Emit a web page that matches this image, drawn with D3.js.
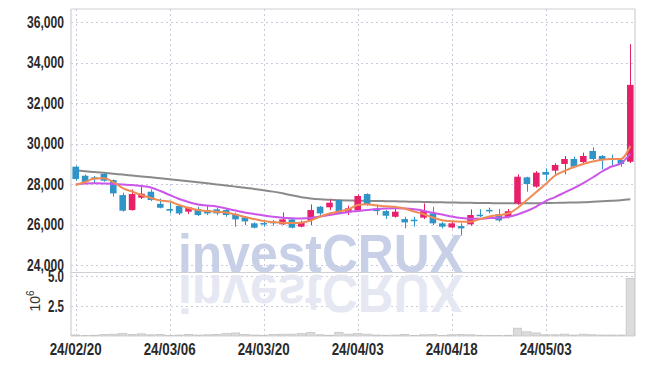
<!DOCTYPE html>
<html>
<head>
<meta charset="utf-8">
<script src="https://cdn.jsdelivr.net/npm/d3@7/dist/d3.min.js"></script>
<style>
  body { margin: 0; background: #fff; }
</style>
</head>
<body>
<div id="chart"></div>
<script>
// trading days shown (yy/mm/dd)
const dates = [
  "24/02/20","24/02/21","24/02/22","24/02/23","24/02/26","24/02/27","24/02/28","24/02/29","24/03/04","24/03/05",
  "24/03/06","24/03/07","24/03/08","24/03/11","24/03/12","24/03/13","24/03/14","24/03/15","24/03/18","24/03/19",
  "24/03/20","24/03/21","24/03/22","24/03/25","24/03/26","24/03/27","24/03/28","24/03/29","24/04/01","24/04/02",
  "24/04/03","24/04/04","24/04/05","24/04/08","24/04/09","24/04/11","24/04/12","24/04/15","24/04/16","24/04/17",
  "24/04/18","24/04/19","24/04/22","24/04/23","24/04/24","24/04/25","24/04/26","24/04/29","24/04/30","24/05/02",
  "24/05/03","24/05/07","24/05/08","24/05/09","24/05/10","24/05/13","24/05/14","24/05/16","24/05/17","24/05/20"
];

const open = [
  28870,28425,28345,28510,28210,27470,26730,27340,27635,27040,
  26780,26930,26650,26780,26730,26765,26730,26535,26370,26075,
  26090,26155,26025,26270,25910,26240,26895,26865,27225,26615,
  26715,27520,26765,26680,26400,26285,26255,26355,26565,26075,
  25875,25940,26025,26500,26740,26530,26385,27060,28345,27885,
  28610,28675,29005,29250,29100,29645,29400,29285,29200,29115
];
const high = [
  28920,28490,28410,28540,28245,27590,27750,27880,27750,27300,
  27150,26980,26895,26895,26930,26845,26815,26600,26435,26125,
  26155,26240,26615,26320,26205,27010,26930,27260,27260,26945,
  27505,27555,27010,26730,26945,26400,26400,27060,26895,26155,
  26155,26075,26765,26770,26850,26780,26780,28490,28375,28655,
  28790,29035,29400,29365,29565,29825,29445,29465,29285,34915
];
const low = [
  28180,28050,28050,28130,27390,26650,26700,27275,27175,26815,
  26565,26485,26535,26435,26485,26470,26400,25910,25990,25825,
  25910,25960,25990,25825,25875,25990,26450,26730,26535,26485,
  26650,26945,26485,26290,26355,25825,25910,26285,25990,25825,
  25825,25480,25960,26380,26570,26155,26320,26980,27635,27835,
  28180,28495,28500,28790,28955,29200,28740,28955,28870,29050
];
const close = [
  28260,28115,28250,28180,27555,26700,27520,27540,27225,26845,
  26700,26565,26865,26485,26565,26565,26485,26270,26170,25860,
  26055,26075,26270,25860,26105,26730,26565,27095,26565,26815,
  27425,27010,26680,26450,26650,26120,26190,26680,26075,25910,
  26075,25825,26485,26450,26700,26220,26675,28375,28015,28575,
  28475,28955,29250,28870,29400,29250,29200,29235,29005,32905
];
// volume, millions of shares
const volume = [
  0.08,0.05,0.06,0.12,0.15,0.22,0.12,0.18,0.10,0.12,
  0.05,0.08,0.12,0.08,0.10,0.12,0.20,0.25,0.12,0.08,
  0.06,0.12,0.15,0.15,0.20,0.28,0.10,0.06,0.30,0.15,
  0.20,0.15,0.08,0.06,0.08,0.12,0.05,0.10,0.12,0.05,
  0.10,0.12,0.10,0.06,0.04,0.05,0.06,0.65,0.35,0.25,
  0.10,0.10,0.15,0.08,0.15,0.10,0.08,0.08,0.08,4.80
];
// moving averages as drawn (short, mid, long)
const maShort = [
  27965,28114,28287,28297,28114,27818,27645,27472,27324,27200,
  27151,26978,26830,26731,26682,26648,26608,26510,26386,26287,
  26188,26139,26104,26089,26104,26213,26411,26559,26667,26756,
  26980,27013,26954,26914,26880,26806,26657,26534,26361,26228,
  26173,26154,26154,26287,26411,26485,26559,26830,27225,27620,
  28015,28435,28657,28855,29003,29126,29215,29250,29250,29892
];
const maMid = [
  27990,28040,28050,28040,28015,27990,27966,27916,27842,27669,
  27472,27274,27126,27003,26954,26904,26806,26707,26608,26534,
  26460,26395,26346,26322,26312,26336,26411,26485,26559,26633,
  26682,26732,26781,26806,26816,26806,26767,26692,26593,26510,
  26411,26336,26297,26297,26336,26346,26386,26510,26682,26904,
  27176,27373,27595,27818,28065,28336,28633,28880,29027,29521
];
const maLong = [
  28690,28646,28606,28566,28520,28480,28435,28390,28346,28297,
  28247,28198,28149,28100,28050,27995,27941,27887,27828,27773,
  27709,27640,27556,27457,27364,27304,27265,27240,27220,27205,
  27190,27185,27180,27170,27160,27150,27140,27130,27120,27110,
  27100,27095,27090,27080,27075,27070,27068,27065,27065,27070,
  27075,27085,27095,27105,27115,27140,27165,27190,27220,27265
];
const priceTicks = [24000, 26000, 28000, 30000, 32000, 34000, 36000];
const volumeTicks = [2.5, 5.0];
const labelEvery = 10;

const width = 645, height = 366;
const left = 71, right = 635;
const priceTop = 9, priceBottom = 272.5;
const volTop = 272.5, volBottom = 336;

const upColor = "#e8206a", downColor = "#2f95c8";
const gridColor = "#c9cbdc";
const font = "Liberation Sans, Arial, sans-serif";

const svg = d3.select("#chart").append("svg")
  .attr("width", width).attr("height", height)
  .attr("viewBox", [0, 0, width, height])
  .style("display", "block");

const idx = d3.range(dates.length);
const x = d3.scaleBand().domain(idx).range([left, right]).paddingInner(0.3).paddingOuter(0.15);
const cx = i => x(i) + x.bandwidth() / 2;
const step = x.step();

const y = d3.scaleLinear().domain([23650, 36650]).range([priceBottom, priceTop]);
const yv = d3.scaleLinear().domain([0, 5.3]).range([volBottom, volTop]);

const tickIdx = idx.filter(i => i % labelEvery === 0);

// grid
const grid = svg.append("g").attr("stroke", gridColor).attr("stroke-dasharray", "2,3").attr("stroke-width", 1);
grid.selectAll(".hg").data(priceTicks).join("line")
  .attr("x1", left).attr("x2", right)
  .attr("y1", d => Math.round(y(d)) + 0.5).attr("y2", d => Math.round(y(d)) + 0.5);
grid.selectAll(".vg").data(volumeTicks).join("line")
  .attr("x1", left).attr("x2", right)
  .attr("y1", d => Math.round(yv(d)) + 0.5).attr("y2", d => Math.round(yv(d)) + 0.5);
grid.selectAll(".xg").data(tickIdx).join("line")
  .attr("x1", d => Math.round(cx(d)) + 0.5).attr("x2", d => Math.round(cx(d)) + 0.5)
  .attr("y1", priceTop).attr("y2", volBottom);

// watermark + reflection
const wm = svg.append("g").attr("font-family", font);
wm.append("text")
  .attr("x", 178).attr("y", priceBottom - 1)
  .attr("textLength", 285).attr("lengthAdjust", "spacingAndGlyphs")
  .attr("font-size", 54).attr("font-weight", "bold")
  .attr("fill", "#c8d0e8")
  .text("investCRUX");
wm.append("text")
  .attr("x", 178).attr("y", priceBottom - 1)
  .attr("transform", `translate(0, ${2 * priceBottom + 1}) scale(1,-1)`)
  .attr("textLength", 285).attr("lengthAdjust", "spacingAndGlyphs")
  .attr("font-size", 54).attr("font-weight", "bold")
  .attr("fill", "#e5e8f2")
  .text("investCRUX");

// volume bars
svg.append("g").selectAll("rect").data(idx).join("rect")
  .attr("x", i => cx(i) - step * 0.44)
  .attr("width", step * 0.88)
  .attr("y", i => yv(volume[i]))
  .attr("height", i => volBottom - yv(volume[i]))
  .attr("fill", "#dcdcdc")
  .attr("stroke", "#c4c4c4")
  .attr("stroke-width", 0.8);

// moving averages
const line = arr => d3.line().x(i => cx(i)).y(i => y(arr[i])).curve(d3.curveMonotoneX)(idx);
svg.append("path").attr("d", line(maLong)).attr("fill", "none").attr("stroke", "#8a8a8a").attr("stroke-width", 2);

// candles
const candle = svg.append("g").selectAll("g").data(idx).join("g")
  .attr("fill", i => close[i] >= open[i] ? upColor : downColor)
  .attr("stroke", i => close[i] >= open[i] ? upColor : downColor);
candle.append("line")
  .attr("x1", i => Math.round(cx(i)) + 0.5).attr("x2", i => Math.round(cx(i)) + 0.5)
  .attr("y1", i => y(high[i])).attr("y2", i => y(low[i]))
  .attr("stroke-width", 1);
candle.append("rect")
  .attr("x", i => x(i))
  .attr("width", x.bandwidth())
  .attr("y", i => y(Math.max(open[i], close[i])))
  .attr("height", i => Math.max(1.5, Math.abs(y(open[i]) - y(close[i]))))
  .attr("stroke", "none");

svg.append("path").attr("d", line(maMid)).attr("fill", "none").attr("stroke", "#cc55ea").attr("stroke-width", 2);
svg.append("path").attr("d", line(maShort)).attr("fill", "none").attr("stroke", "#ef8c55").attr("stroke-width", 2);

// frame
const frame = svg.append("g").attr("stroke", "#cfcfd4").attr("fill", "none").attr("stroke-width", 1.2);
frame.append("line").attr("x1", left).attr("x2", left).attr("y1", priceTop).attr("y2", volBottom);
frame.append("line").attr("x1", right).attr("x2", right).attr("y1", priceTop).attr("y2", volBottom);
frame.append("line").attr("x1", left).attr("x2", right).attr("y1", priceTop).attr("y2", priceTop);
frame.append("line").attr("x1", left).attr("x2", right).attr("y1", priceBottom).attr("y2", priceBottom);

// axes (labels squeezed to the narrow face of the original)
const yAxis = svg.append("g").attr("transform", `translate(${left},0)`)
  .call(d3.axisLeft(y).tickValues(priceTicks).tickFormat(d3.format(",")).tickSize(0).tickPadding(7));
const vAxis = svg.append("g").attr("transform", `translate(${left},0)`)
  .call(d3.axisLeft(yv).tickValues(volumeTicks).tickFormat(d3.format(".1f")).tickSize(0).tickPadding(7));
[yAxis, vAxis].forEach(a => {
  a.select(".domain").remove();
  a.attr("font-family", font).attr("font-size", 16).attr("font-weight", "bold");
  a.selectAll("text").attr("fill", "#2a2a2a").attr("lengthAdjust", "spacingAndGlyphs");
});
yAxis.selectAll("text").attr("textLength", 37);
vAxis.selectAll("text").attr("textLength", 16);

svg.append("g").attr("font-family", font).attr("font-weight", "bold")
  .selectAll("text").data(tickIdx).join("text")
  .attr("x", i => cx(i) - 26).attr("y", 355)
  .attr("font-size", 16).attr("fill", "#2a2a2a")
  .attr("textLength", 52).attr("lengthAdjust", "spacingAndGlyphs")
  .text(i => dates[i]);

// volume unit label
const unit = svg.append("text")
  .attr("transform", "translate(40,301) rotate(-90)")
  .attr("text-anchor", "middle")
  .attr("font-family", font)
  .attr("font-size", 14).attr("fill", "#333");
unit.append("tspan").text("10");
unit.append("tspan").attr("dy", -6).attr("font-size", 10).text("6");
</script>
</body>
</html>
